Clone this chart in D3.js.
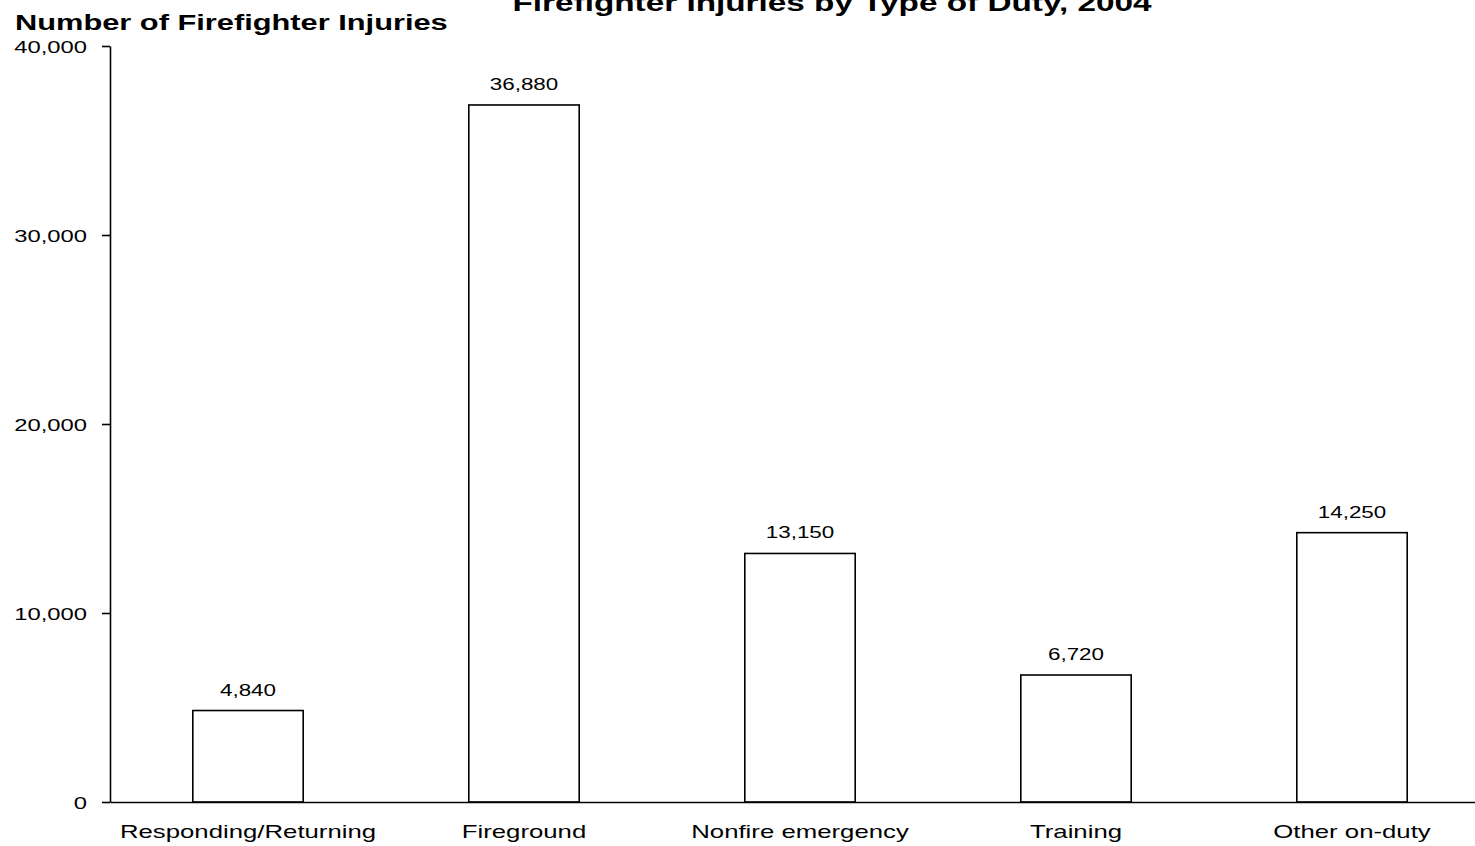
<!DOCTYPE html>
<html>
<head>
<meta charset="utf-8">
<script src="https://cdn.jsdelivr.net/npm/d3@7"></script>
<style>
  html, body { margin: 0; padding: 0; background: #fff; }
  svg { display: block; }
  text { font-family: "Liberation Sans", Arial, sans-serif; fill: #000; }
</style>
</head>
<body>
<svg id="chart" width="1475" height="846"></svg>
<script>
const categories = ["Responding/Returning", "Fireground", "Nonfire emergency", "Training", "Other on-duty"];
const injuries = [4840, 36880, 13150, 6720, 14250];
const yTicks = [0, 10000, 20000, 30000, 40000];
const titleText = "Firefighter Injuries by Type of Duty, 2004";
const yLabelText = "Number of Firefighter Injuries";

const W = 1475, H = 846;
const SX = 1.4; // horizontal text stretch seen in the reference
const svg = d3.select("#chart");

const x = d3.scaleBand().domain(categories).range([110, 1490]).paddingInner(0.6).paddingOuter(0.3);
const y = d3.scaleLinear().domain([0, 40000]).range([802, 46]);
const fmt = d3.format(",");

function stretched(g, tx, ty, str, size, weight, anchor) {
  return g.append("text")
    .attr("transform", `translate(${tx},${ty}) scale(${SX},1)`)
    .attr("text-anchor", anchor || "middle")
    .style("font-size", size + "px")
    .style("font-weight", weight || "normal")
    .text(str);
}

// Bars
svg.append("g").selectAll("rect")
  .data(injuries)
  .join("rect")
  .attr("x", (d, i) => x(categories[i]))
  .attr("y", d => y(d))
  .attr("width", x.bandwidth())
  .attr("height", d => y(0) - y(d))
  .attr("fill", "#fff")
  .attr("stroke", "#000")
  .attr("stroke-width", 1.6);

// Value labels
const vl = svg.append("g");
injuries.forEach((d, i) => {
  stretched(vl, x(categories[i]) + x.bandwidth() / 2, y(d) - 15, fmt(d), 16, "normal", "middle");
});

// Y axis
const yAxis = svg.append("g")
  .attr("transform", "translate(110,0)")
  .call(d3.axisLeft(y).tickValues(yTicks).tickFormat(fmt).tickSizeOuter(0).tickSizeInner(8).tickPadding(0));
yAxis.select(".domain").attr("stroke", "#000").attr("stroke-width", 1.6);
yAxis.selectAll(".tick line").attr("stroke", "#000").attr("stroke-width", 1.6);
yAxis.selectAll(".tick text")
  .attr("x", null).attr("dy", null)
  .attr("transform", `translate(-23,6) scale(${SX},1)`)
  .attr("text-anchor", "end")
  .style("font-family", '"Liberation Sans", Arial, sans-serif')
  .style("font-size", "17px")
  .attr("fill", "#000");

// X axis
const xAxis = svg.append("g")
  .attr("transform", `translate(0,${y(0)})`)
  .call(d3.axisBottom(x).tickSize(0).tickPadding(0));
xAxis.select(".domain").attr("stroke", "#000").attr("stroke-width", 1.6);
xAxis.selectAll(".tick text")
  .attr("y", null).attr("dy", null)
  .attr("transform", `translate(0,36) scale(${SX},1)`)
  .style("font-family", '"Liberation Sans", Arial, sans-serif')
  .style("font-size", "18.4px")
  .attr("fill", "#000");

// Title and y label
stretched(svg, 832, 11, titleText, 23.8, "bold", "middle");
stretched(svg, 15, 30, yLabelText, 22, "bold", "start");
</script>
</body>
</html>
